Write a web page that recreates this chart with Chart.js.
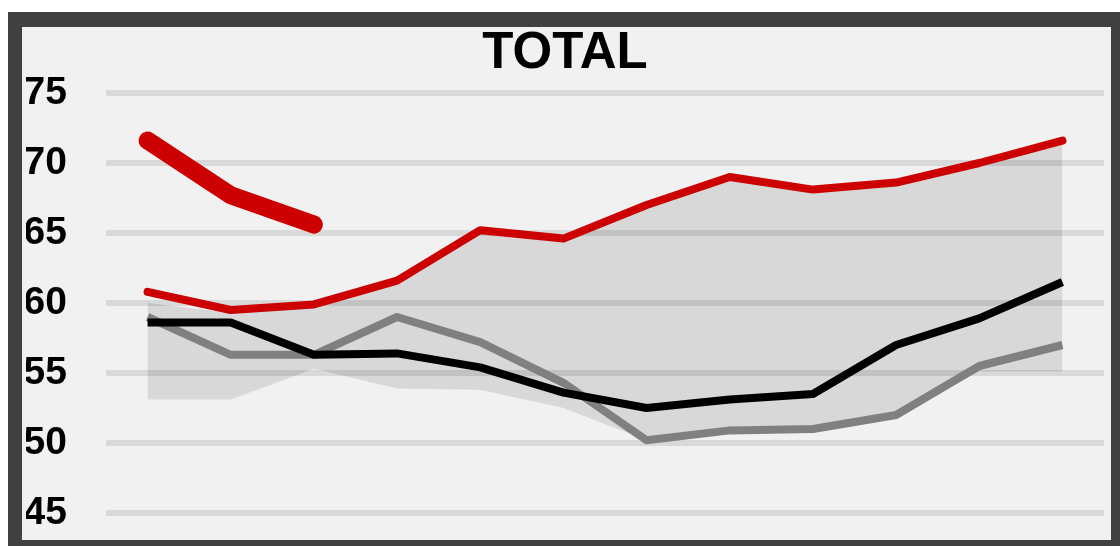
<!DOCTYPE html>
<html>
<head>
<meta charset="utf-8">
<script src="https://cdn.jsdelivr.net/npm/chart.js@4"></script>
<style>
  body { margin: 0; background: #fff; }
  #frame {
    position: absolute; left: 8px; top: 12px;
    width: 1089px; height: 513px;
    border: 14px solid #404040; border-top-width: 15px;
    background: #f1f1f1;
  }
</style>
</head>
<body>
<div id="frame"><canvas id="myChart" width="1089" height="513"></canvas></div>
<script>
var ctx = document.getElementById('myChart').getContext('2d');

// 12 periods, axis not shown in the original
var periodos = ['1', '2', '3', '4', '5', '6', '7', '8', '9', '10', '11', '12'];

var atual = [71.6, 67.7, 65.6, null, null, null, null, null, null, null, null, null];
var vermelho = [60.8, 59.5, 59.9, 61.6, 65.2, 64.6, 67.0, 69.0, 68.1, 68.6, 70.0, 71.6];
var preto = [58.6, 58.6, 56.3, 56.4, 55.4, 53.6, 52.5, 53.1, 53.5, 57.0, 58.9, 61.5];
var cinza = [59.0, 56.3, 56.3, 59.0, 57.2, 54.3, 50.2, 50.9, 51.0, 52.0, 55.5, 57.0];
var faixaMax = [60.0, 59.3, 59.7, 61.4, 65.0, 64.4, 66.8, 68.8, 67.9, 68.4, 69.8, 71.4];
var faixaMin = [53.1, 53.1, 55.3, 53.9, 53.8, 52.5, 50.2, 50.8, 50.9, 52.0, 55.1, 55.1];

var yTicks = [45, 50, 55, 60, 65, 70, 75];

var chart = new Chart(ctx, {
    type: 'line',
    data: {
        labels: periodos,
        datasets: [
            {
                label: 'faixaMin',
                data: faixaMin,
                borderWidth: 0,
                pointRadius: 0,
                fill: false,
                order: 10
            },
            {
                label: 'faixa',
                data: faixaMax,
                borderWidth: 0,
                pointRadius: 0,
                backgroundColor: 'rgba(0, 0, 0, 0.1)',
                fill: 0,
                order: 9
            },
            {
                label: 'cinza',
                data: cinza,
                borderColor: '#808080',
                borderWidth: 8,
                pointRadius: 0,
                borderJoinStyle: 'round',
                order: 5
            },
            {
                label: 'preto',
                data: preto,
                borderColor: '#000000',
                borderWidth: 8,
                pointRadius: 0,
                borderJoinStyle: 'round',
                order: 4
            },
            {
                label: 'vermelho',
                data: vermelho,
                borderColor: '#cc0000',
                borderWidth: 8,
                pointRadius: 0,
                borderJoinStyle: 'round',
                borderCapStyle: 'round',
                order: 3
            },
            {
                label: 'atual',
                data: atual,
                borderColor: '#cc0000',
                borderWidth: 18,
                pointRadius: 0,
                borderJoinStyle: 'round',
                borderCapStyle: 'round',
                spanGaps: false,
                order: 2
            }
        ]
    },
    options: {
        responsive: false,
        animation: false,
        layout: { padding: { left: 4, right: 7, top: 0, bottom: 27 } },
        plugins: {
            legend: { display: false },
            tooltip: { enabled: false },
            title: {
                display: true,
                text: 'TOTAL',
                color: '#000',
                font: { family: 'Liberation Sans, Arial, sans-serif', size: 51, weight: 'bold', lineHeight: 1 },
                padding: { top: 1, bottom: 14 }
            }
        },
        scales: {
            x: {
                display: false,
                offset: true
            },
            y: {
                min: 45,
                max: 75,
                afterFit: function (scale) { scale.width = 80; },
                afterBuildTicks: function (scale) {
                    scale.ticks = yTicks.map(function (v) { return { value: v }; });
                },
                border: { display: false },
                grid: { color: '#d9d9d9', lineWidth: 6, drawTicks: true, tickLength: 39, tickColor: 'rgba(0,0,0,0)' },
                ticks: {
                    color: '#000',
                    padding: 0,
                    font: { family: 'Liberation Sans, Arial, sans-serif', size: 39, weight: 'bold' }
                }
            }
        }
    }
});
</script>
</body>
</html>
